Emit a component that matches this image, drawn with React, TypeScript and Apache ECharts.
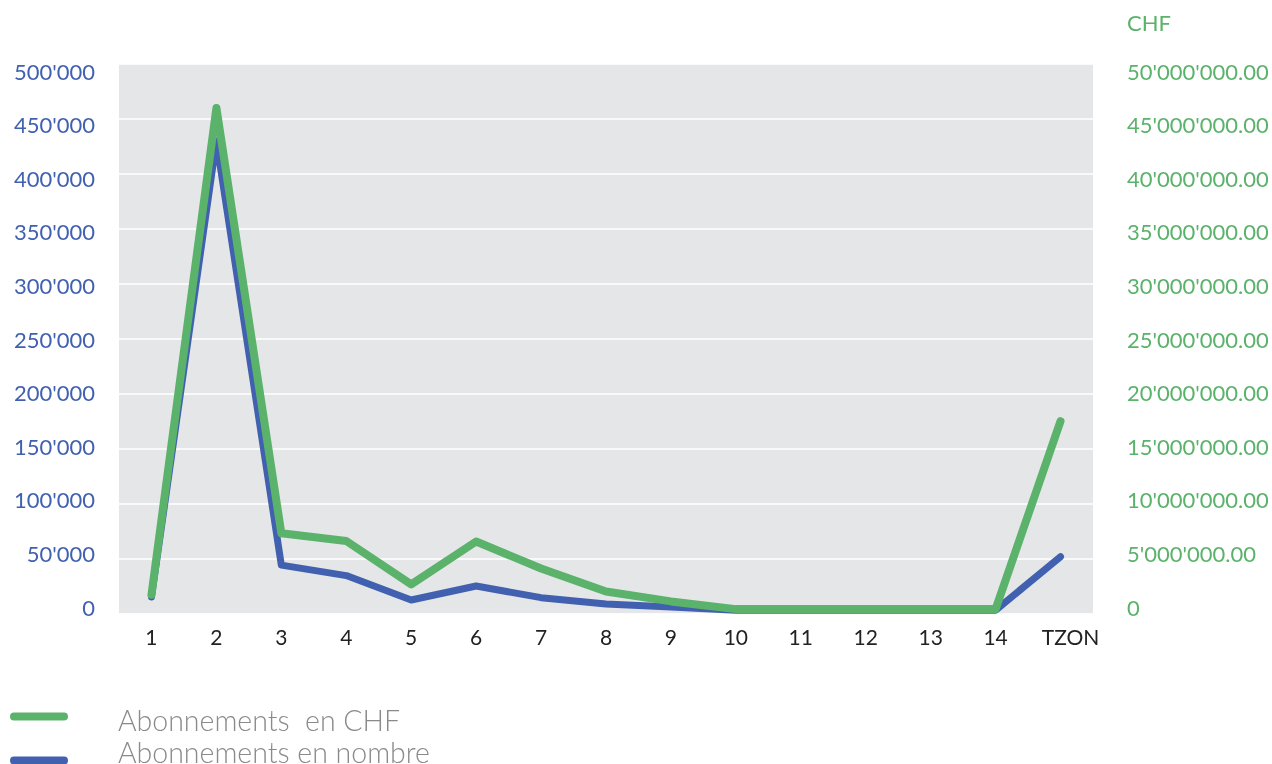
import React, { useEffect, useRef } from "react";
import * as echarts from "echarts";

const categories = ["1", "2", "3", "4", "5", "6", "7", "8", "9", "10", "11", "12", "13", "14", "TZON"];
const countValues = [15000, 430000, 44000, 34500, 12300, 25000, 14400, 8600, 6000, 3000, 3000, 3000, 3000, 3000, 51700];
const chfValues = [1700000, 46000000, 7300000, 6600000, 2650000, 6550000, 4100000, 2000000, 1100000, 400000, 400000, 400000, 400000, 400000, 17500000];
const seriesNames = ["Abonnements en nombre", "Abonnements  en CHF"];

const GREEN = "#5bb26b";
const BLUE = "#4161b0";
const FONT = "Lato, 'Noto Sans', sans-serif";

function groupThousands(n: number): string {
  return String(Math.round(n)).replace(/\B(?=(\d{3})+(?!\d))/g, "'");
}

export default function App() {
  const ref = useRef<HTMLDivElement>(null);
  useEffect(() => {
    if (!ref.current) return;
    const chart = echarts.init(ref.current, null, { renderer: "svg" });
    // stadium-shaped icons; a zero-area sub-path stretches the icon box so the bar sits off-centre
    const iconUp = "path://M4,0 L54,0 A4,4 0 0 1 54,8 L4,8 A4,4 0 0 1 4,0 Z M0,14 L0.01,14 Z";
    const iconDown = "path://M0,0 L0.01,0 Z M4,18 L54,18 A4,4 0 0 1 54,26 L4,26 A4,4 0 0 1 4,18 Z";
    const legendText = {
      color: "#8a8a8a",
      fontSize: 28.5,
      lineHeight: 24,
      fontWeight: 300,
      fontFamily: FONT,
      padding: [0, 0, 0, 45],
    };
    const hiddenAxis = { axisLine: { show: false }, axisTick: { show: false }, splitLine: { show: false } };
    const xData = categories.map((c) =>
      c === "TZON" ? { value: c, textStyle: { padding: [0, 0, 0, 20] } } : c
    );
    chart.setOption({
      animation: false,
      title: {
        text: "CHF",
        left: 1122,
        top: 6,
        textStyle: { color: GREEN, fontSize: 22, fontWeight: "normal", fontFamily: FONT },
      },
      legend: [
        {
          data: [{ name: seriesNames[1], icon: iconUp }],
          left: 10,
          top: 705,
          padding: 0,
          itemWidth: 58,
          itemHeight: 14,
          selectedMode: false,
          textStyle: legendText,
        },
        {
          data: [{ name: seriesNames[0], icon: iconDown }],
          left: 10,
          top: 737,
          padding: 0,
          itemWidth: 58,
          itemHeight: 26,
          selectedMode: false,
          textStyle: legendText,
        },
      ],
      grid: [
        {
          left: 119,
          right: 179,
          top: 64,
          bottom: 150.5,
          show: true,
          backgroundColor: "#e5e6e8",
          borderWidth: 0,
        },
        {
          left: 119,
          right: 179,
          top: 71,
          bottom: 157,
          show: false,
        },
      ],
      xAxis: [
        {
          type: "category",
          data: xData,
          boundaryGap: true,
          gridIndex: 0,
          axisLine: { show: false },
          axisTick: { show: false },
          axisLabel: { color: "#222", fontSize: 21, fontFamily: FONT, margin: 12, interval: 0 },
        },
        {
          type: "category",
          data: categories,
          gridIndex: 1,
          show: false,
        },
      ],
      yAxis: [
        {
          type: "value",
          gridIndex: 0,
          min: 0,
          max: 500000,
          interval: 50000,
          axisLine: { show: false },
          axisTick: { show: false },
          axisLabel: { show: false },
          splitLine: { lineStyle: { color: "#ffffff", width: 1.5 } },
        },
        {
          type: "value",
          gridIndex: 0,
          min: 0,
          max: 50000000,
          interval: 5000000,
          position: "right",
          axisLine: { show: false },
          axisTick: { show: false },
          axisLabel: { show: false },
          splitLine: { show: false },
        },
        {
          type: "value",
          gridIndex: 1,
          min: 0,
          max: 500000,
          interval: 50000,
          position: "left",
          ...hiddenAxis,
          axisLabel: {
            color: BLUE,
            fontSize: 22,
            fontFamily: FONT,
            margin: 24,
            formatter: (v: number) => groupThousands(v),
          },
        },
        {
          type: "value",
          gridIndex: 1,
          min: 0,
          max: 50000000,
          interval: 5000000,
          position: "right",
          ...hiddenAxis,
          axisLabel: {
            color: GREEN,
            fontSize: 22,
            fontFamily: FONT,
            margin: 34,
            formatter: (v: number) => (v === 0 ? "0" : groupThousands(v) + ".00"),
          },
        },
      ],
      series: [
        {
          name: seriesNames[0],
          type: "line",
          xAxisIndex: 0,
          yAxisIndex: 0,
          data: countValues,
          symbol: "none",
          color: BLUE,
          lineStyle: { color: BLUE, width: 7, cap: "round", join: "round" },
        },
        {
          name: seriesNames[1],
          type: "line",
          xAxisIndex: 0,
          yAxisIndex: 1,
          data: chfValues,
          symbol: "none",
          color: GREEN,
          lineStyle: { color: GREEN, width: 8, cap: "round", join: "round" },
        },
      ],
    });
    return () => chart.dispose();
  }, []);
  return <div ref={ref} style={{ position: "fixed", left: 0, top: 0, width: 1272, height: 764 }} />;
}
